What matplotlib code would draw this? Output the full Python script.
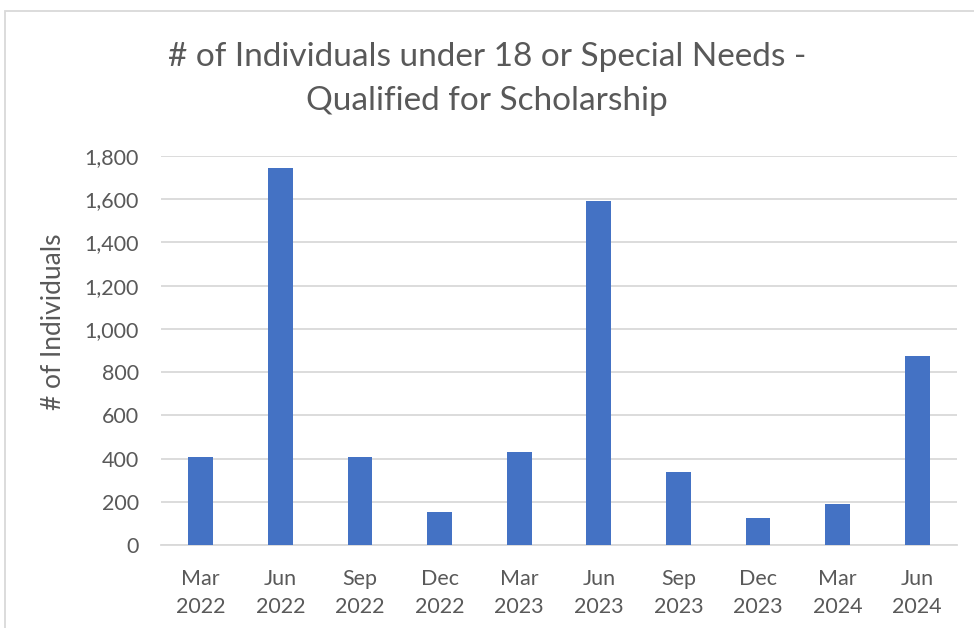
import matplotlib
matplotlib.use("Agg")
import matplotlib.pyplot as plt
from matplotlib.patches import Rectangle
from matplotlib.ticker import FuncFormatter

quarters = ["Mar\n2022", "Jun\n2022", "Sep\n2022", "Dec\n2022", "Mar\n2023",
            "Jun\n2023", "Sep\n2023", "Dec\n2023", "Mar\n2024", "Jun\n2024"]
individuals = [406, 1743, 408, 155, 431, 1594, 340, 123, 192, 874]

plt.rcParams['font.family'] = ['Lato', 'DejaVu Sans']
text_col = '#595959'
grid_col = '#d9d9d9'

fig = plt.figure(figsize=(9.74, 6.28), dpi=100)
ax = fig.add_axes([161/974, 1 - 545/628, (957 - 161)/974, (545 - 156)/628])

x = range(len(quarters))
ax.bar(x, individuals, width=0.31, color='#4472C4', zorder=3)

ax.set_xlim(-0.5, len(quarters) - 0.5)
ax.set_ylim(0, 1800)
ax.set_yticks(range(0, 1801, 200))
ax.yaxis.set_major_formatter(FuncFormatter(lambda v, p: f"{int(v):,}"))
ax.set_xticks(list(x))
ax.set_xticklabels(quarters, linespacing=1.55)

ax.grid(axis='y', color=grid_col, linewidth=1.3, zorder=0)
for s in ['top', 'right', 'left']:
    ax.spines[s].set_visible(False)
ax.spines['bottom'].set_color(grid_col)
ax.spines['bottom'].set_linewidth(1.3)
ax.tick_params(axis='both', length=0, labelsize=15.5, labelcolor=text_col)
ax.tick_params(axis='y', pad=16)
ax.tick_params(axis='x', pad=17)

ax.set_ylabel("# of Individuals", fontsize=19, color=text_col)
ax.yaxis.set_label_coords((54 - 161) / (957 - 161), (545 - 322) / (545 - 156))
ax.yaxis.label.set_va('center')

fig.text(0.5, 1 - 57/628, "# of Individuals under 18 or Special Needs -",
         ha='center', va='center', fontsize=24, color=text_col)
fig.text(0.5, 1 - 101/628, "Qualified for Scholarship",
         ha='center', va='center', fontsize=24, color=text_col)

# chart area border
fig.patches.append(Rectangle((5/974, -0.1), 1.2, 1.1 - 11/628,
                             transform=fig.transFigure, fill=False,
                             edgecolor=grid_col, linewidth=1.3))

fig.savefig("out.png", dpi=100)
